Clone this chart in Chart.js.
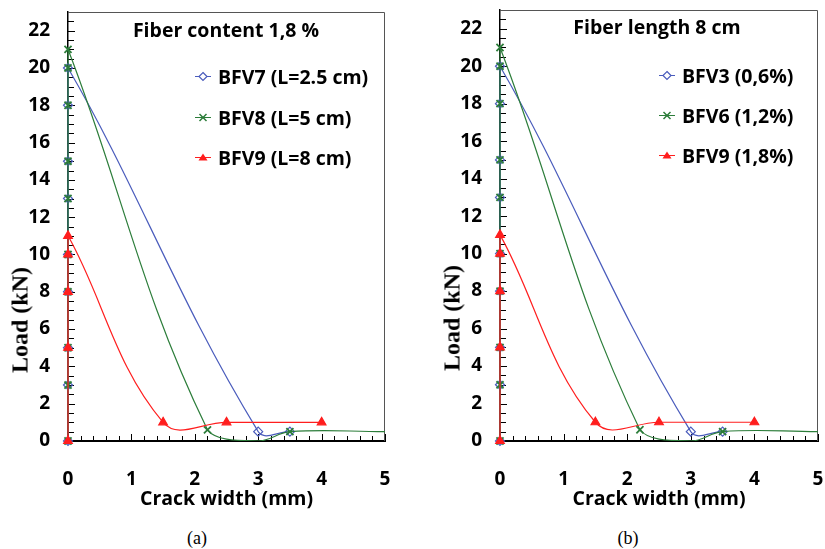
<!DOCTYPE html>
<html lang="en">
<head>
<meta charset="utf-8">
<title>Load vs crack width</title>
<script src="https://cdn.jsdelivr.net/npm/chart.js"></script>
<style>
  body { margin: 0; background: #fff; }
  .page { position: relative; width: 825px; height: 549px; overflow: hidden; font-family: "Open Sans", sans-serif; color: #000; }
  canvas { position: absolute; top: 0; }
  .ttl { position: absolute; font-weight: bold; font-size: 19.5px; white-space: nowrap; transform: translate(-50%, -50%); }
  .ylab { position: absolute; font: bold 24px "Liberation Serif", serif; white-space: nowrap; transform: translate(-50%, -50%) rotate(-90deg); }
  .cap { position: absolute; font: 18px "Liberation Serif", serif; transform: translate(-50%, -50%); }
  .leg { position: absolute; display: flex; align-items: center; font-weight: bold; font-size: 19.5px; white-space: nowrap; transform: translateY(-50%); }
  .leg svg { margin-right: 7px; }
</style>
</head>
<body>
<div class="page">
  <canvas id="chartA" width="410" height="518" style="left:0px"></canvas>
  <canvas id="chartB" width="393" height="518" style="left:432px"></canvas>

  <div class="ttl" style="left:226px; top:29px">Fiber content 1,8 %</div>
  <div class="ttl" style="left:657px; top:26px">Fiber length 8 cm</div>

  <div class="ylab" style="left:20px; top:320px">Load (kN)</div>
  <div class="ylab" style="left:452px; top:318px">Load (kN)</div>

  <div class="cap" style="left:197px; top:538px">(a)</div>
  <div class="cap" style="left:628px; top:538px">(b)</div>

  <div id="legA"></div>
  <div id="legB"></div>
</div>

<script>
// (a) fibre content 1,8 %  -- crack width (mm) / load (kN)
const bfv7X = [0, 0, 0, 0, 0, 0, 0, 0, 0, 3, 3.5];
const bfv7Y = [0, 3, 5, 8, 10, 13, 15, 18, 20, 0.5, 0.5];
const bfv8X = [0, 0, 0, 0, 0, 0, 0, 0, 0, 0, 2.2, 3, 3.5, 5];
const bfv8Y = [0, 3, 5, 8, 10, 13, 15, 18, 20, 21, 0.6, 0, 0.5, 0.5];
const bfv9X = [0, 0, 0, 0, 0, 1.5, 2.5, 4];
const bfv9Y = [0, 5, 8, 10, 11, 1, 1, 1];

// (b) fibre length 8 cm
const bfv3X = [0, 0, 0, 0, 0, 0, 0, 0, 0, 3, 3.5];
const bfv3Y = [0, 3, 5, 8, 10, 13, 15, 18, 20, 0.5, 0.5];
const bfv6X = [0, 0, 0, 0, 0, 0, 0, 0, 0, 0, 2.2, 3, 3.5, 5];
const bfv6Y = [0, 3, 5, 8, 10, 13, 15, 18, 20, 21, 0.6, 0, 0.5, 0.5];
const bfv9bX = [0, 0, 0, 0, 0, 1.5, 2.5, 4];
const bfv9bY = [0, 5, 8, 10, 11, 1, 1, 1];

// points of the green curves that carry no marker
const greenNoMarker = [11, 13];

const xTicks = [0, 1, 2, 3, 4, 5];
const yTicks = [0, 2, 4, 6, 8, 10, 12, 14, 16, 18, 20, 22];

const BLUE = '#4a5cbc';
const GREEN = '#2c7d3a';
const RED = '#ff1e1e';
const tickFont = { family: 'Open Sans', weight: 'bold', size: 19 };
const titleFont = { family: 'Open Sans', weight: 'bold', size: 19.5 };

function pts(xs, ys) {
    return xs.map((x, i) => ({ x: x, y: ys[i] }));
}

// inner minor ticks + thin frame on top/right
const innerTicks = {
    id: 'innerTicks',
    beforeDatasetsDraw(chart) {
        const { ctx, chartArea: a, scales: { x, y } } = chart;
        ctx.save();
        ctx.strokeStyle = '#000';
        ctx.lineWidth = 1;
        ctx.beginPath();
        for (let k = 0; k <= 46; k++) {
            const py = Math.round(y.getPixelForValue(k / 2)) + 0.5;
            ctx.moveTo(a.left, py);
            ctx.lineTo(a.left + (k % 4 === 0 ? 7 : 6), py);
        }
        for (let k = 0; k <= 25; k++) {
            const px = Math.round(x.getPixelForValue(k / 5)) + 0.5;
            ctx.moveTo(px, a.bottom);
            ctx.lineTo(px, a.bottom - (k % 5 === 0 ? 7 : 5));
        }
        ctx.stroke();
        ctx.strokeStyle = '#555';
        ctx.beginPath();
        ctx.moveTo(a.left, a.top + 0.5);
        ctx.lineTo(a.right - 0.5, a.top + 0.5);
        ctx.lineTo(a.right - 0.5, a.bottom);
        ctx.stroke();
        ctx.restore();
    }
};

function series(data, color, style, radius, order, skip) {
    const marks = data.filter((p, i) => !(skip || []).includes(i));
    return [{
        data: data,
        showLine: true,
        borderColor: color,
        borderWidth: 1.2,
        tension: 0.4,
        pointRadius: 0,
        clip: { left: 3, top: 0, right: 0, bottom: 0 },
        order: order
    }, {
        data: marks,
        showLine: false,
        pointStyle: style,
        pointRadius: radius,
        pointBorderColor: color,
        pointBackgroundColor: style === 'triangle' ? color : 'rgba(255,255,255,0)',
        pointBorderWidth: style === 'crossRot' ? 1.8 : 1.2,
        clip: false,
        order: order
    }];
}

function makeChart(id, blue, green, red, pad) {
    return new Chart(document.getElementById(id), {
        type: 'scatter',
        data: {
            datasets: [
                ...series(blue, BLUE, 'rectRot', 4.5, 3),
                ...series(green, GREEN, 'crossRot', 5, 2, greenNoMarker),
                ...series(red, RED, 'triangle', 5, 1)
            ]
        },
        options: {
            responsive: false,
            animation: false,
            layout: { padding: pad },
            plugins: { legend: { display: false }, tooltip: { enabled: false } },
            scales: {
                x: {
                    type: 'linear', min: 0, max: 5,
                    afterBuildTicks: s => { s.ticks = xTicks.map(v => ({ value: v })); },
                    afterFit: s => { s.height = 70; s.paddingLeft = 0; s.paddingRight = 0; },
                    ticks: { font: tickFont, color: '#000', padding: 27, maxRotation: 0 },
                    grid: { display: true, drawOnChartArea: false, drawTicks: false },
                    border: { display: true, color: '#000', width: 2 },
                    title: { display: true, text: 'Crack width (mm)', color: '#000', font: titleFont, padding: 0 }
                },
                y: {
                    type: 'linear', min: 0, max: 23,
                    afterBuildTicks: s => { s.ticks = yTicks.map(v => ({ value: v })); },
                    afterFit: s => { s.width = 68; s.paddingTop = 0; s.paddingBottom = 0; },
                    ticks: { font: tickFont, color: '#000', padding: 18 },
                    grid: { display: true, drawOnChartArea: false, drawTicks: false },
                    border: { display: true, color: '#000', width: 1.5 }
                }
            }
        },
        plugins: [innerTicks]
    });
}

makeChart('chartA', pts(bfv7X, bfv7Y), pts(bfv8X, bfv8Y), pts(bfv9X, bfv9Y),
    { top: 12, right: 25, bottom: 7, left: 0 });
makeChart('chartB', pts(bfv3X, bfv3Y), pts(bfv6X, bfv6Y), pts(bfv9bX, bfv9bY),
    { top: 10, right: 7, bottom: 7, left: 0 });

// html legends
function legendIcon(color, kind) {
    let m = '';
    if (kind === 'diamond') m = '<polygon points="8,2 12,6 8,10 4,6" fill="#fff" stroke="' + color + '" stroke-width="1.2"/>';
    if (kind === 'cross') m = '<path d="M4.5,2.5 L11.5,9.5 M11.5,2.5 L4.5,9.5" stroke="' + color + '" stroke-width="1.5"/>';
    if (kind === 'tri') m = '<polygon points="8,2 12.5,9 3.5,9" fill="' + color + '"/>';
    return '<svg width="16" height="12"><line x1="0" y1="6" x2="16" y2="6" stroke="' + color + '" stroke-width="1.2"/>' + m + '</svg>';
}

function buildLegend(id, left, tops, names) {
    const kinds = [['diamond', BLUE], ['cross', GREEN], ['tri', RED]];
    document.getElementById(id).innerHTML = names.map((n, i) =>
        '<div class="leg" style="left:' + left + 'px; top:' + tops[i] + 'px">' +
        legendIcon(kinds[i][1], kinds[i][0]) + '<span>' + n + '</span></div>').join('');
}

buildLegend('legA', 195, [76, 117, 157], ['BFV7 (L=2.5 cm)', 'BFV8 (L=5 cm)', 'BFV9 (L=8 cm)']);
buildLegend('legB', 659, [75, 115, 155], ['BFV3 (0,6%)', 'BFV6 (1,2%)', 'BFV9 (1,8%)']);
</script>
</body>
</html>
